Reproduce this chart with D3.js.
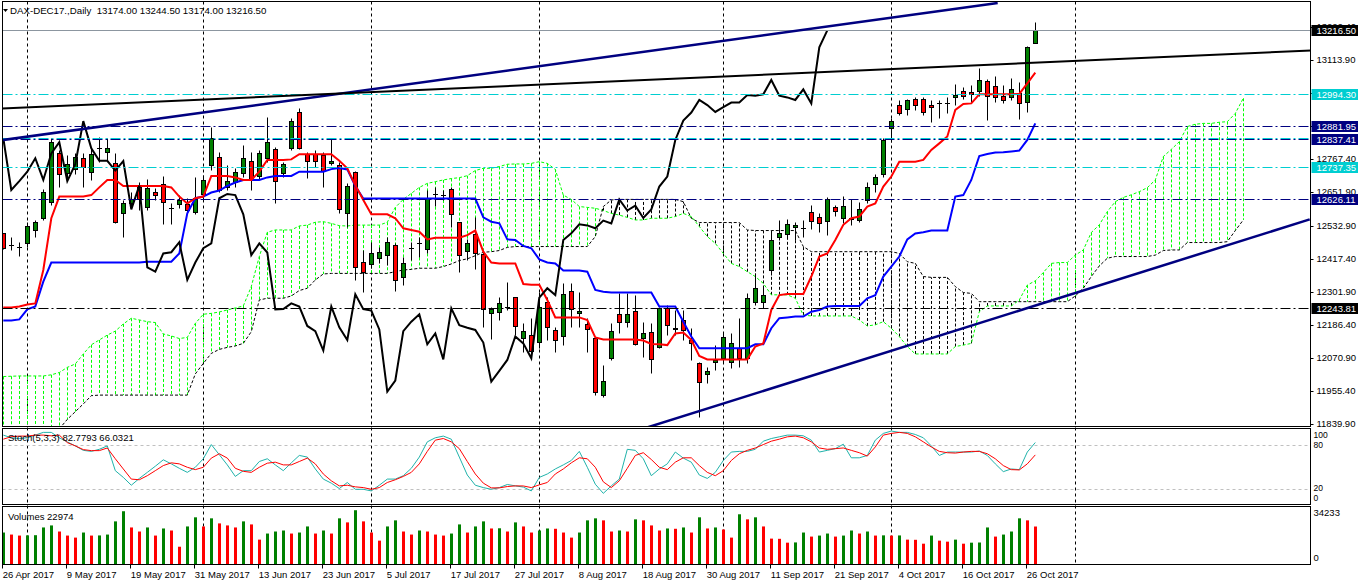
<!DOCTYPE html>
<html>
<head>
<meta charset="utf-8">
<title>DAX-DEC17 Daily</title>
<script src="https://cdn.jsdelivr.net/npm/d3@7"></script>
<style>
  body { margin: 0; background: #fff; }
  svg text { font-family: "Liberation Sans", Arial, sans-serif; font-size: 9.5px; fill: #000; }
</style>
</head>
<body>
<div id="chart"></div>
<script>
// bars are indexed 0..129 (26 Apr 2017 .. 27 Oct 2017)
const labelBars = [0, 8, 16, 24, 32, 40, 48, 56, 64, 72, 80, 88, 96, 104, 112, 120, 128];
const dateLabels = ["26 Apr 2017", "9 May 2017", "19 May 2017", "31 May 2017", "13 Jun 2017", "23 Jun 2017",
  "5 Jul 2017", "17 Jul 2017", "27 Jul 2017", "8 Aug 2017", "18 Aug 2017", "30 Aug 2017",
  "11 Sep 2017", "21 Sep 2017", "4 Oct 2017", "16 Oct 2017", "26 Oct 2017"];
// month separators (bar index of first bar of each month)
const monthBars = [3, 25, 46, 67, 90, 111, 134];

const opens = [
  12506,12465,12460,12471,12518,12559,12615,12786,12716,12730,
  12769,12720,12806,12792,12751,12579,12611,12670,12597,12650,
  12678,12594,12608,12608,12580,12644,12746,12775,12670,12687,
  12719,12761,12707,12769,12800,12716,12804,12930,12783,12783,
  12780,12751,12746,12576,12720,12407,12398,12419,12430,12465,
  12355,12454,12471,12450,12644,12640,12660,12545,12446,12504,
  12433,12226,12232,12250,12282,12139,12150,12125,12265,12168,
  12147,12306,12226,12188,12141,11940,12069,12223,12197,12236,
  12139,12160,12107,12244,12170,12203,12133,12054,12013,12055,
  12069,12057,12106,12069,12267,12267,12378,12492,12503,12527,
  12524,12580,12562,12551,12600,12559,12555,12553,12623,12679,
  12713,12874,12955,12940,12976,12975,12954,12964,12964,12985,
  13006,13000,13005,13040,13022,12987,12982,12996,12967,13174];
const highs = [
  12509,12495,12477,12547,12553,12660,12839,12798,12780,12786,
  12786,12810,12845,12839,12786,12623,12652,12687,12695,12664,
  12707,12611,12640,12629,12705,12710,12880,12792,12746,12734,
  12816,12792,12798,12915,12810,12757,12909,12944,12792,12798,
  12792,12835,12757,12681,12725,12448,12477,12460,12495,12471,
  12425,12477,12495,12658,12667,12658,12667,12547,12485,12565,
  12442,12250,12285,12337,12285,12191,12209,12302,12285,12180,
  12331,12331,12302,12209,12145,12046,12194,12299,12296,12290,
  12197,12194,12250,12256,12238,12238,12174,12057,12040,12115,
  12156,12156,12209,12299,12366,12325,12518,12553,12555,12547,
  12553,12606,12576,12635,12606,12637,12625,12617,12687,12714,
  12839,12909,12973,12975,12982,12985,12973,12973,12985,13029,
  13017,13026,13084,13045,13057,13026,13049,13037,13162,13244.5];
const lows = [
  12450,12448,12427,12460,12495,12553,12605,12667,12691,12714,
  12667,12693,12757,12763,12544,12492,12594,12588,12588,12623,
  12539,12539,12594,12582,12574,12623,12728,12652,12658,12670,
  12705,12658,12695,12757,12611,12705,12798,12800,12699,12740,
  12667,12745,12576,12530,12343,12302,12384,12404,12395,12306,
  12326,12413,12425,12439,12602,12623,12530,12372,12413,12380,
  12180,12135,12203,12238,12150,12092,12075,12104,12133,12092,
  12115,12180,12177,12092,11940,11932,12063,12156,12180,12116,
  12075,12016,12104,12150,12150,12133,12063,11865,11984,12028,
  12051,12034,12040,12051,12256,12244,12361,12483,12489,12483,
  12495,12520,12512,12500,12567,12544,12535,12547,12611,12652,
  12705,12827,12921,12921,12938,12921,12897,12909,12926,12955,
  12977,12961,12987,12903,12967,12964,12973,12905,12932,13174];
const closes = [
  12454,12465,12460,12533,12545,12650,12825,12714,12749,12772,
  12737,12784,12806,12804,12547,12611,12625,12625,12664,12639,
  12617,12594,12623,12588,12629,12693,12839,12658,12689,12722,
  12769,12693,12786,12825,12689,12748,12899,12804,12760,12760,
  12726,12759,12590,12673,12387,12372,12436,12440,12475,12343,
  12404,12454,12471,12629,12644,12640,12573,12430,12471,12439,
  12240,12241,12261,12250,12182,12164,12096,12250,12177,12133,
  12293,12241,12236,12170,11952,11991,12164,12197,12223,12118,
  12156,12065,12244,12185,12176,12168,12124,11987,12025,12063,
  12145,12121,12069,12281,12314,12290,12483,12506,12538,12534,
  12524,12551,12541,12625,12586,12603,12560,12590,12670,12705,
  12833,12901,12929,12973,12955,12931,12948,12964,12964,12990,
  12988,12993,13043,12988,12982,12973,13010,12961,13157,13216.5];

// Ichimoku lines
const tenkan = [
  12247,12247,12250,12257,12261,12378,12559,12635,12635,12635,
  12635,12640,12667,12693,12693,12672,12672,12672,12672,12672,
  12672,12667,12635,12611,12629,12635,12707,12707,12707,12702,
  12693,12693,12722,12763,12763,12763,12765,12783,12783,12783,
  12783,12783,12760,12734,12675,12623,12573,12573,12573,12559,
  12524,12518,12512,12485,12491,12491,12491,12491,12500,12516,
  12442,12404,12401,12401,12401,12329,12326,12326,12273,12212,
  12212,12212,12212,12203,12142,12135,12135,12135,12135,12135,
  12131,12119,12118,12115,12156,12159,12133,12077,12065,12065,
  12065,12065,12065,12065,12110,12121,12238,12290,12294,12294,
  12294,12355,12425,12436,12483,12536,12559,12565,12600,12611,
  12670,12705,12757,12757,12757,12763,12798,12821,12845,12938,
  12959,12961,12993,12993,12993,12993,12993,12994,13031,13069];
const kijun = [
  12201,12201,12205,12240,12250,12337,12404,12404,12404,12404,
  12404,12404,12404,12404,12404,12404,12404,12404,12407,12407,
  12407,12407,12436,12576,12629,12635,12649,12656,12672,12684,
  12693,12693,12693,12702,12707,12707,12707,12722,12722,12722,
  12722,12731,12735,12730,12672,12628,12628,12628,12628,12628,
  12628,12628,12628,12628,12628,12628,12628,12628,12628,12628,
  12562,12547,12541,12485,12483,12462,12454,12415,12404,12401,
  12376,12376,12376,12372,12308,12302,12299,12299,12299,12299,
  12299,12299,12250,12250,12250,12197,12145,12104,12104,12104,
  12104,12104,12104,12104,12118,12118,12174,12209,12212,12215,
  12215,12232,12238,12250,12252,12252,12252,12252,12279,12290,
  12355,12390,12425,12485,12506,12510,12516,12516,12516,12635,
  12640,12693,12777,12784,12789,12790,12793,12796,12833,12891];
// senkou spans run 26 bars past the last candle (0..155)
const senkouA = [
  12005,12006,12007,12007,12007,12007,12011,12019,12037,12049,
  12084,12116,12133,12150,12164,12189,12209,12203,12197,12194,
  12154,12147,12138,12142,12191,12223,12226,12231,12238,12245,
  12252,12320,12425,12510,12518,12518,12518,12532,12535,12545,
  12547,12541,12533,12532,12535,12535,12535,12535,12545,12597,
  12625,12646,12667,12681,12687,12693,12698,12701,12708,12726,
  12734,12734,12740,12748,12749,12749,12751,12757,12751,12730,
  12640,12625,12600,12597,12594,12586,12576,12570,12562,12553,
  12553,12559,12559,12559,12565,12576,12565,12530,12495,12471,
  12436,12401,12390,12372,12355,12331,12291,12291,12291,12279,
  12220,12217,12217,12217,12217,12217,12217,12203,12182,12186,
  12197,12174,12145,12110,12084,12084,12084,12084,12084,12110,
  12115,12121,12232,12252,12252,12252,12252,12273,12325,12340,
  12369,12401,12404,12404,12430,12448,12509,12536,12582,12617,
  12632,12641,12652,12666,12693,12775,12800,12827,12880,12888,
  12891,12891,12895,12897,12926,12979];
const senkouB = [
  11790,11790,11790,11790,11790,11790,11790,11822,11855,11882,
  11909,11938,11940,11940,11940,11940,11940,11940,11940,11940,
  11940,11940,11940,11940,12014,12051,12086,12100,12107,12112,
  12121,12162,12273,12279,12279,12279,12287,12306,12314,12343,
  12364,12366,12366,12366,12366,12366,12366,12366,12366,12372,
  12378,12380,12384,12384,12384,12390,12399,12411,12417,12428,
  12440,12442,12446,12457,12460,12460,12460,12460,12460,12460,
  12460,12460,12460,12460,12495,12600,12623,12625,12625,12625,
  12625,12625,12625,12625,12625,12617,12559,12544,12544,12544,
  12544,12544,12544,12518,12516,12516,12516,12516,12516,12516,
  12460,12442,12442,12442,12442,12442,12442,12442,12442,12442,
  12442,12442,12436,12407,12401,12355,12352,12352,12352,12320,
  12299,12296,12267,12267,12267,12267,12267,12267,12267,12267,
  12267,12267,12267,12267,12287,12314,12355,12392,12419,12425,
  12425,12425,12425,12425,12430,12446,12448,12448,12474,12474,
  12474,12474,12474,12477,12516,12553];

// Stochastic (5,3,3)
const stochMain = [
  92.8,89.2,88.2,89.2,92.8,96.5,96.5,89.2,83.7,78.2,
  72.2,70.8,73.6,78.2,44.7,35.6,25.0,34.2,42.4,50.7,
  59.4,53.9,47.9,42.4,49.3,60.8,80.0,66.3,52.5,36.9,
  44.7,44.7,57.1,60.8,52.5,44.7,55.3,65.3,63.1,47.0,
  33.3,27.8,20.5,28.7,19.5,19.5,17.3,25.0,33.3,33.3,
  37.9,47.9,63.1,83.7,89.2,91.5,87.3,63.1,38.8,25.0,
  21.8,19.5,21.8,26.0,24.1,22.5,17.3,35.6,40.2,47.0,
  52.5,58.5,70.8,49.3,26.4,14.0,24.1,33.3,73.6,72.2,
  60.8,37.9,47.0,53.9,69.9,61.7,56.2,38.8,34.2,42.4,
  58.5,69.9,70.8,70.8,73.6,84.6,88.2,90.5,92.8,92.8,
  91.9,86.0,69.9,72.2,74.5,80.5,62.1,62.1,65.3,86.0,
  95.1,98.3,96.5,96.5,93.7,89.2,78.2,65.3,69.9,69.9,
  69.9,69.9,71.3,65.3,53.9,43.4,47.0,46.1,69.9,82.7793];
const stochSignal = [
  87.3,90.7,91.5,91.5,92.8,92.8,91.9,92.8,82.7,78.2,
  73.2,71.8,71.8,75.4,60.8,47.0,33.3,32.4,37.9,44.7,
  51.6,55.3,53.9,49.3,46.1,49.3,61.7,67.6,61.7,47.9,
  43.8,42.4,49.3,54.8,56.2,52.5,52.5,57.1,61.7,53.9,
  40.2,31.0,24.1,25.0,22.8,21.8,19.5,21.8,28.7,32.4,
  36.9,42.4,53.9,70.8,86.0,88.2,83.7,74.5,57.1,40.2,
  27.8,21.4,21.4,23.2,24.1,24.0,21.8,25.5,28.7,40.2,
  47.0,55.3,62.1,60.8,49.3,29.6,21.8,31.0,47.9,65.3,
  69.0,59.8,49.3,46.1,56.2,62.1,62.1,51.6,42.4,37.9,
  44.7,58.5,67.6,72.2,75.4,80.0,84.6,87.3,90.5,91.5,
  89.2,83.7,75.4,73.6,74.5,75.4,72.2,69.0,64.4,76.8,
  92.8,95.1,96.5,95.1,90.5,83.7,76.8,70.8,69.0,68.5,
  69.9,70.8,70.8,67.6,60.8,51.6,46.1,45.7,53.9,66.0321];
const stochLevels = [80, 20];

const volumes = [
  19317,18084,17468,17600,17700,22400,23633,19934,17468,16235,
  19317,17468,17550,18084,26099,32264,22400,19934,22400,17468,
  21783,20550,10686,23016,28565,23016,27948,24866,23633,22400,
  26099,24249,15002,18701,19934,20550,18701,19317,23016,18701,
  20550,18701,27948,25482,32880,26099,19317,14385,23016,26715,
  19934,18084,20550,19934,18084,17468,18701,24249,19317,23016,
  26099,21783,21900,19934,25482,23016,19317,20550,21783,21600,
  19317,16235,19317,26715,27948,26715,19934,20550,19934,27332,
  26715,23633,20550,21783,21600,22400,19317,28565,21783,22400,
  21167,16235,30414,27332,28565,23016,15618,15500,13152,13300,
  19317,16851,17468,18701,16851,17468,20550,18701,19934,17468,
  17600,17468,17550,15002,14900,12535,17468,14385,13768,15002,
  12535,13152,13250,22400,16851,18084,19934,27948,26715,22974];
const volumeMax = 34233;

// price axis labels as printed on the chart
const priceTicks = [13229.40, 13113.90, 12998.40, 12882.90, 12767.40, 12651.90, 12532.90,
  12417.40, 12301.90, 12186.40, 12070.90, 11955.40, 11839.90];
// horizontal levels drawn on the chart, and which of them carry a price tag
const levels = [12994.30, 12881.95, 12840.00, 12837.41, 12737.35, 12626.11, 12243.81];
const levelTagged = [true, true, false, true, true, true, true];
const levelColors = ["#00ced1", "#000080", "#00ced1", "#000080", "#00ced1", "#000080", "#000000"];
// trend lines: [bar, price] anchors
const trendUpper = [[-0.4, 12831.5], [124.3, 13312.5]];
const trendMid = [[-0.5, 12943], [163.5, 13146]];
const trendLower = [[78, 11805], [163.3, 12555]];

// ---- layout ----
const width = 1358, height = 584;
const left = 2.5, right = 1310.5;
const mainTop = 1.5, mainBottom = 426.5;
const stoTop = 428.5, stoBottom = 504.5;
const volTop = 506.5, volBottom = 564.5;
const green = "#008000", red = "#ff0000", lime = "#00ff00";

const x = d3.scaleLinear().domain([0, 129]).range([3.3, 1035.3]);
const y = d3.scaleLinear().domain([11839.9, 13216.5]).range([423.7, 30.4]);
const yS = d3.scaleLinear().domain([0, 100]).range([503.7, 429.8]);
const yV = d3.scaleLinear().domain([0, volumeMax]).range([564.3, 508]);
const px = i => Math.round(x(i)) + 0.5;
const py = v => Math.round(y(v)) + 0.5;

const svg = d3.select("#chart").append("svg")
  .attr("width", width).attr("height", height)
  .style("display", "block");

const defs = svg.append("defs");
function pane(id, y0, y1) {
  defs.append("clipPath").attr("id", id).append("rect")
    .attr("x", left).attr("y", y0).attr("width", right - left).attr("height", y1 - y0);
  return svg.append("g").attr("clip-path", `url(#${id})`);
}

// month separators
svg.append("g").selectAll("line").data(monthBars).join("line")
  .attr("x1", px).attr("x2", px)
  .attr("y1", mainTop).attr("y2", volBottom)
  .attr("stroke", "#000").attr("stroke-dasharray", "3,3");

// ---- main pane ----
const gMain = pane("clip-main", mainTop, mainBottom);

// cloud hatching
const cloudBars = d3.range(senkouA.length);
gMain.append("g").selectAll("line").data(cloudBars).join("line")
  .attr("x1", px).attr("x2", px)
  .attr("y1", i => y(senkouA[i])).attr("y2", i => y(senkouB[i]))
  .attr("stroke", i => senkouA[i] >= senkouB[i] ? lime : "#000")
  .attr("stroke-dasharray", "3,2");

const idxLine = d3.line().x((d, i) => x(i)).y(d => y(d));
gMain.append("path").attr("d", idxLine(senkouA))
  .attr("fill", "none").attr("stroke", lime).attr("stroke-dasharray", "3,2");
gMain.append("path").attr("d", idxLine(senkouB))
  .attr("fill", "none").attr("stroke", "#000").attr("stroke-dasharray", "3,2");

// candles
const bars = d3.range(closes.length);
const cg = gMain.append("g").selectAll("g").data(bars).join("g");
cg.append("line")
  .attr("x1", px).attr("x2", px)
  .attr("y1", i => py(highs[i])).attr("y2", i => py(lows[i]))
  .attr("stroke", "#000");
cg.filter(i => opens[i] !== closes[i]).append("rect")
  .attr("x", i => px(i) - 2).attr("width", 4)
  .attr("y", i => py(Math.max(opens[i], closes[i])))
  .attr("height", i => Math.max(1, py(Math.min(opens[i], closes[i])) - py(Math.max(opens[i], closes[i]))))
  .attr("fill", i => closes[i] > opens[i] ? green : red)
  .attr("stroke", "#000");
cg.filter(i => opens[i] === closes[i]).append("line")
  .attr("x1", i => px(i) - 2.5).attr("x2", i => px(i) + 2.5)
  .attr("y1", i => py(closes[i])).attr("y2", i => py(closes[i]))
  .attr("stroke", "#000");

// tenkan, kijun, chikou (close shifted 26 bars back)
gMain.append("path").attr("d", idxLine(kijun))
  .attr("fill", "none").attr("stroke", "#0000ff").attr("stroke-width", 2);
gMain.append("path").attr("d", idxLine(tenkan))
  .attr("fill", "none").attr("stroke", red).attr("stroke-width", 2);
gMain.append("path").attr("d", idxLine(closes.slice(26)))
  .attr("fill", "none").attr("stroke", "#000").attr("stroke-width", 2);

// levels
gMain.append("g").selectAll("line").data(levels).join("line")
  .attr("x1", left).attr("x2", right)
  .attr("y1", py).attr("y2", py)
  .attr("stroke", (d, i) => levelColors[i])
  .attr("stroke-dasharray", "10,3,2,3");
// bid line
gMain.append("line")
  .attr("x1", left).attr("x2", right)
  .attr("y1", py(closes[129])).attr("y2", py(closes[129]))
  .attr("stroke", "#8c96a0");

// trend lines
const tLine = d3.line().x(d => x(d[0])).y(d => y(d[1]));
[[trendUpper, "#000080", 2.5], [trendMid, "#000", 2], [trendLower, "#000080", 2.5]].forEach(([pts, c, w]) => {
  gMain.append("path").attr("d", tLine(pts))
    .attr("fill", "none").attr("stroke", c).attr("stroke-width", w);
});

// ---- stochastic pane ----
const gSto = pane("clip-sto", stoTop, stoBottom);
gSto.append("g").selectAll("line").data(stochLevels).join("line")
  .attr("x1", left).attr("x2", right)
  .attr("y1", d => Math.round(yS(d)) + 0.5).attr("y2", d => Math.round(yS(d)) + 0.5)
  .attr("stroke", "#c0c0c0").attr("stroke-dasharray", "3,3");
const sLine = d3.line().x((d, i) => x(i)).y(d => yS(d));
gSto.append("path").attr("d", sLine(stochMain))
  .attr("fill", "none").attr("stroke", "#20b2aa");
gSto.append("path").attr("d", sLine(stochSignal))
  .attr("fill", "none").attr("stroke", red);

// ---- volume pane ----
const gVol = pane("clip-vol", volTop, volBottom);
gVol.append("g").selectAll("rect").data(bars).join("rect")
  .attr("x", i => Math.round(x(i)) - 1).attr("width", 3)
  .attr("y", i => yV(volumes[i]))
  .attr("height", i => yV(0) - yV(volumes[i]))
  .attr("fill", i => (i === 0 || volumes[i] > volumes[i - 1]) ? green : red);

// ---- frames ----
[[mainTop, mainBottom], [stoTop, stoBottom], [volTop, volBottom]].forEach(([t, b]) => {
  svg.append("rect").attr("x", left).attr("y", t)
    .attr("width", right - left).attr("height", b - t)
    .attr("fill", "none").attr("stroke", "#000");
});

// ---- right axis ----
const axis = svg.append("g");
axis.selectAll("line").data(priceTicks).join("line")
  .attr("x1", right).attr("x2", right + 3)
  .attr("y1", py).attr("y2", py).attr("stroke", "#000");
axis.selectAll("text").data(priceTicks).join("text")
  .attr("x", 1316.5).attr("y", d => y(d)).attr("dominant-baseline", "central")
  .text(d => d.toFixed(2));

// price tags (each tag drawn whole so later ones cover earlier ones)
const tagData = levels.map((v, i) => ({ v, c: levelColors[i], on: levelTagged[i] }))
  .filter(d => d.on)
  .concat([{ v: closes[129], c: "#000" }]);
const tag = svg.append("g").selectAll("g").data(tagData).join("g");
tag.append("rect")
  .attr("x", right + 1).attr("width", width - right - 1)
  .attr("y", d => Math.round(y(d.v)) - 5).attr("height", 11)
  .attr("fill", d => d.c);
tag.append("text")
  .attr("x", 1316.5).attr("y", d => Math.round(y(d.v)) + 0.5)
  .attr("dominant-baseline", "central").style("fill", "#fff")
  .text(d => d.v.toFixed(2));

// stochastic scale
const stoLabels = [[100, yS(100) + 5], [80, yS(80)], [20, yS(20) - 0.5], [0, yS(0) - 6]];
svg.append("g").selectAll("text").data(stoLabels).join("text")
  .attr("x", right + 3).attr("y", d => d[1]).attr("dominant-baseline", "central")
  .style("font-size", "8.5px")
  .text(d => d[0]);
// volume scale
svg.append("text").attr("x", right + 3).attr("y", yV(volumeMax) + 4)
  .attr("dominant-baseline", "central").text(volumeMax);
svg.append("text").attr("x", right + 3).attr("y", yV(0) - 7)
  .attr("dominant-baseline", "central").text(0);

// ---- time axis ----
const tAxis = svg.append("g");
tAxis.selectAll("line").data(labelBars).join("line")
  .attr("x1", i => px(i) - 1).attr("x2", i => px(i) - 1)
  .attr("y1", volBottom).attr("y2", volBottom + 4).attr("stroke", "#000");
tAxis.selectAll("text").data(labelBars).join("text")
  .attr("x", i => x(i) - 0.5).attr("y", 574.5)
  .attr("dominant-baseline", "central")
  .text((d, i) => dateLabels[i]);

// ---- titles ----
svg.append("path").attr("d", "M3,9L8,9L5.5,12Z").attr("fill", "#000");
svg.append("text").attr("x", 10).attr("y", 10.5).attr("dominant-baseline", "central")
  .style("white-space", "pre").style("font-size", "9.7px")
  .text(`DAX-DEC17.,Daily  ${[opens[129], highs[129], lows[129], closes[129]].map(v => v.toFixed(2)).join(" ")}`);
svg.append("text").attr("x", 8).attr("y", 437.5).attr("dominant-baseline", "central")
  .text(`Stoch(5,3,3) ${stochMain[129].toFixed(4)} ${stochSignal[129].toFixed(4)}`);
svg.append("text").attr("x", 8).attr("y", 516).attr("dominant-baseline", "central")
  .text(`Volumes ${volumes[129]}`);
</script>
</body>
</html>
